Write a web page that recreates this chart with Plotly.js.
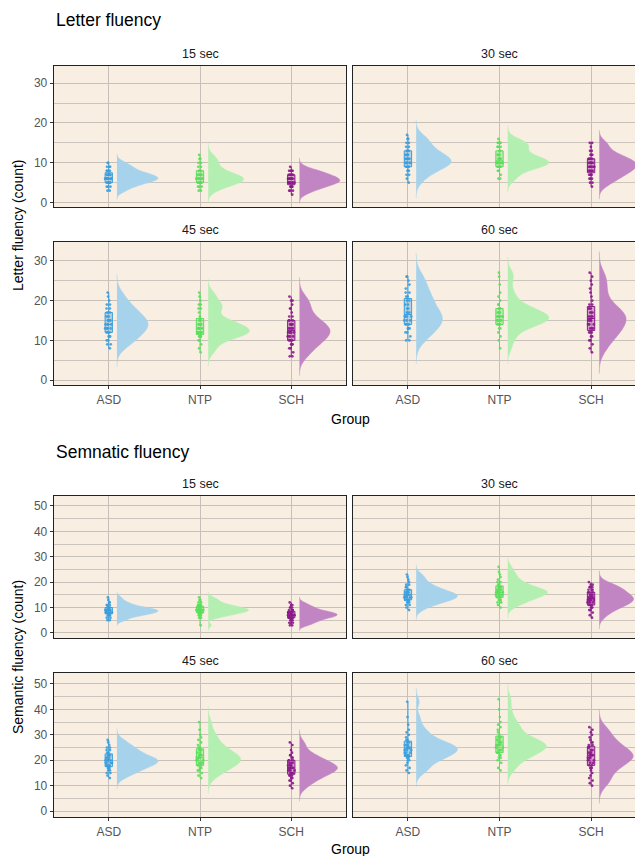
<!DOCTYPE html>
<html><head><meta charset="utf-8">
<script src="https://cdn.plot.ly/plotly-3.0.1.min.js"></script>
<style>html,body{margin:0;padding:0;overflow:hidden;background:#fff;} #chart{width:660px;height:856px;}</style>
</head><body><div id="chart"></div>
<script>
// ---------------- data ----------------
const groups = ['ASD', 'NTP', 'SCH'];
const timeLabels = ['15 sec', '30 sec', '45 sec', '60 sec'];

// Letter fluency (count)
const letter15_ASD = [3,3,4,4,4,5,5,5,5,5,5,6,6,6,6,6,6,6,6,6,7,7,7,7,7,7,7,8,8,8,8,9,9,9,10,10];
const letter15_NTP = [3,3,4,4,4,5,5,5,5,5,5,5,6,6,6,6,6,6,6,6,7,7,7,7,7,7,8,8,8,9,9,10,10,11,11,12];
const letter15_SCH = [2,3,3,3,4,4,4,4,4,5,5,5,5,5,5,5,5,6,6,6,6,6,6,6,6,7,7,7,7,7,7,8,8,8,8,9];
const letter30_ASD = [5,6,7,7,8,8,8,9,9,9,9,10,10,10,10,10,10,11,11,11,11,11,12,12,12,12,13,13,13,14,14,15,15,16,16,17];
const letter30_NTP = [6,6,7,8,8,9,9,9,9,9,10,10,10,10,10,10,10,10,11,11,11,11,11,12,12,12,13,13,14,14,14,15,15,15,15,16];
const letter30_SCH = [4,5,5,6,6,6,7,7,7,7,8,8,8,8,8,9,9,9,9,9,9,10,10,10,10,10,10,11,11,11,11,11,12,12,12,13,13,14,15,15];
const letter45_ASD = [8,9,9,10,10,11,11,11,12,12,12,13,13,13,13,14,14,14,14,15,15,15,15,16,16,16,17,17,17,18,18,19,19,20,21,22];
const letter45_NTP = [7,8,9,10,10,11,11,11,11,12,12,12,12,12,12,13,13,13,13,13,14,14,14,14,15,15,15,16,17,18,18,19,19,20,21,22];
const letter45_SCH = [6,6,7,8,8,9,9,9,10,10,10,11,11,11,11,12,12,12,12,12,13,13,13,13,14,14,14,14,15,15,15,16,16,17,18,18,19,20,20,21];
const letter60_ASD = [10,10,11,12,12,13,13,13,14,14,14,15,15,15,16,16,16,16,17,17,17,18,18,19,19,20,20,21,21,22,22,23,24,25,26,26];
const letter60_NTP = [8,10,11,12,13,13,14,14,14,14,15,15,15,15,15,16,16,16,16,16,16,17,17,17,17,18,18,18,19,19,20,21,22,24,26,27];
const letter60_SCH = [7,8,9,10,10,11,11,12,12,12,13,13,13,14,14,14,15,15,15,15,16,16,16,16,17,17,17,18,18,18,19,19,20,21,22,23,24,25,26,27];

// Semantic fluency (count)
const semantic15_ASD = [5,5,6,6,7,7,7,7,7,8,8,8,8,8,8,8,9,9,9,9,9,9,9,9,10,10,10,10,10,11,11,11,12,12,13,14];
const semantic15_NTP = [3,6,6,7,7,7,7,8,8,8,8,8,8,9,9,9,9,9,9,9,9,10,10,10,10,10,10,11,11,11,11,12,12,13,13,14];
const semantic15_SCH = [3,3,4,4,4,5,5,5,5,6,6,6,6,6,6,7,7,7,7,7,7,7,7,8,8,8,8,8,8,8,9,9,9,9,10,10,10,11,11,12];
const semantic30_ASD = [9,10,11,11,12,12,12,13,13,13,13,14,14,14,14,14,15,15,15,15,15,16,16,16,16,17,17,17,18,18,19,19,20,21,22,23];
const semantic30_NTP = [10,11,12,12,13,13,13,14,14,14,15,15,15,15,16,16,16,16,16,16,17,17,17,17,18,18,18,19,19,20,20,21,22,23,24,26];
const semantic30_SCH = [6,7,8,9,9,10,10,10,11,11,11,12,12,12,12,13,13,13,13,13,14,14,14,14,15,15,15,15,16,16,16,17,17,17,18,18,18,19,19,20];
const semantic45_ASD = [13,14,15,15,16,16,17,17,17,18,18,18,19,19,19,19,20,20,20,20,20,21,21,21,22,22,22,23,23,24,24,25,25,26,27,28];
const semantic45_NTP = [13,14,15,16,16,17,17,18,18,18,19,19,19,20,20,20,21,21,21,21,22,22,22,23,23,24,24,25,25,26,27,28,29,30,32,35];
const semantic45_SCH = [9,10,11,12,12,13,13,14,14,14,15,15,15,16,16,16,16,17,17,17,17,17,18,18,18,18,19,19,19,20,20,20,21,21,22,22,23,24,26,27];
const semantic60_ASD = [15,16,17,18,19,20,20,21,21,22,22,22,23,23,23,24,24,24,25,25,25,25,26,26,26,27,27,28,28,29,30,31,32,34,37,43];
const semantic60_NTP = [16,17,19,20,21,21,22,22,23,23,24,24,24,25,25,25,26,26,26,26,27,27,27,28,28,29,29,30,31,32,33,34,35,37,40,44];
const semantic60_SCH = [10,11,12,13,14,15,16,17,17,18,18,19,19,20,20,20,21,21,21,22,22,22,22,23,23,23,24,24,25,25,26,26,27,27,28,29,30,31,32,33];

const letterTicks = [0, 10, 20, 30];
const semanticTicks = [0, 10, 20, 30, 40, 50];

// ---------------- assembly ----------------
const letterSets = [
  [letter15_ASD, letter15_NTP, letter15_SCH],
  [letter30_ASD, letter30_NTP, letter30_SCH],
  [letter45_ASD, letter45_NTP, letter45_SCH],
  [letter60_ASD, letter60_NTP, letter60_SCH]
];
const semanticSets = [
  [semantic15_ASD, semantic15_NTP, semantic15_SCH],
  [semantic30_ASD, semantic30_NTP, semantic30_SCH],
  [semantic45_ASD, semantic45_NTP, semantic45_SCH],
  [semantic60_ASD, semantic60_NTP, semantic60_SCH]
];

const W = 660, H = 856;
const FONT = 'Liberation Sans, Arial, sans-serif';
const pointColors = ['#3A9FDF', '#5ADF5A', '#8C1A8C'];
const boxFills = ['rgba(58,159,223,0.35)', 'rgba(90,223,90,0.35)', 'rgba(140,26,140,0.35)'];
const violinColors = ['#A7D2EC', '#B3EFB1', '#C285C3'];
const gridCol = '#C6C0B9';

function quantile(sorted, p) {
  const h = (sorted.length - 1) * p, lo = Math.floor(h), hi = Math.ceil(h);
  return sorted[lo] + (sorted[hi] - sorted[lo]) * (h - lo);
}
function nrd0(v) {
  const n = v.length, m = v.reduce((a, b) => a + b, 0) / n;
  const sd = Math.sqrt(v.reduce((a, b) => a + (b - m) * (b - m), 0) / (n - 1));
  const s = v.slice().sort((a, b) => a - b);
  const iqr = quantile(s, 0.75) - quantile(s, 0.25);
  let lo = Math.min(sd, iqr / 1.34);
  if (!(lo > 0)) lo = sd || 1;
  return 0.9 * lo * Math.pow(n, -0.2);
}
function peakDensity(v, bw) {
  const mn = Math.min(...v) - 3 * bw, mx = Math.max(...v) + 3 * bw;
  let best = 0;
  for (let i = 0; i <= 300; i++) {
    const x = mn + (mx - mn) * i / 300;
    let d = 0;
    for (const xi of v) { const z = (x - xi) / bw; d += Math.exp(-0.5 * z * z); }
    d /= v.length * bw * Math.sqrt(2 * Math.PI);
    if (d > best) best = d;
  }
  return best;
}

// panel pixel boxes [left, right, top, bottom]
const panels = [
  {sets: letterSets[0], lab: timeLabels[0], px: [54, 346, 66, 207], range: [-1.1, 34.3], ticks: letterTicks, left: true, bottom: false},
  {sets: letterSets[1], lab: timeLabels[1], px: [353, 646, 66, 207], range: [-1.1, 34.3], ticks: letterTicks, left: false, bottom: false},
  {sets: letterSets[2], lab: timeLabels[2], px: [54, 346, 242, 385], range: [-1.2, 34.7], ticks: letterTicks, left: true, bottom: true},
  {sets: letterSets[3], lab: timeLabels[3], px: [353, 646, 242, 385], range: [-1.2, 34.7], ticks: letterTicks, left: false, bottom: true},
  {sets: semanticSets[0], lab: timeLabels[0], px: [54, 346, 496, 638], range: [-2.0, 53.9], ticks: semanticTicks, left: true, bottom: false},
  {sets: semanticSets[1], lab: timeLabels[1], px: [353, 646, 496, 638], range: [-2.0, 53.9], ticks: semanticTicks, left: false, bottom: false},
  {sets: semanticSets[2], lab: timeLabels[2], px: [54, 346, 673, 817], range: [-2.3, 54.3], ticks: semanticTicks, left: true, bottom: true},
  {sets: semanticSets[3], lab: timeLabels[3], px: [353, 646, 673, 817], range: [-2.3, 54.3], ticks: semanticTicks, left: false, bottom: true}
];

const traces = [];
const layout = {
  width: W, height: H,
  margin: {l: 0, r: 0, t: 0, b: 0},
  paper_bgcolor: '#ffffff',
  plot_bgcolor: '#F8EEE2',
  showlegend: false,
  font: {family: FONT, size: 12, color: '#4D4D4D'},
  boxmode: 'overlay', violinmode: 'overlay',
  annotations: []
};

panels.forEach((p, k) => {
  const sfx = k === 0 ? '' : String(k + 1);
  const xa = 'x' + sfx, ya = 'y' + sfx;
  const [l, r, t, b] = p.px;
  layout['xaxis' + sfx] = {
    domain: [l / W, r / W], range: [0.4, 3.6], anchor: ya,
    tickmode: 'array', tickvals: [1, 2, 3], ticktext: groups,
    showticklabels: p.bottom, ticks: p.bottom ? 'outside' : '', ticklen: 3, tickcolor: '#333',
    tickfont: {family: FONT, size: 12, color: '#555555'},
    showgrid: true, gridcolor: gridCol, gridwidth: 1, zeroline: false,
    showline: true, mirror: true, linecolor: '#222', linewidth: 1.3, fixedrange: true
  };
  layout['yaxis' + sfx] = {
    domain: [(H - b) / H, (H - t) / H], range: p.range, anchor: xa,
    tickmode: 'array', tickvals: p.ticks,
    minor: {dtick: 5, tick0: 0, showgrid: true, gridcolor: gridCol, gridwidth: 0.9},
    showticklabels: p.left, ticks: p.left ? 'outside' : '', ticklen: 3, tickcolor: '#333',
    tickfont: {family: FONT, size: 12, color: '#555555'},
    showgrid: true, gridcolor: gridCol, gridwidth: 1, zeroline: false,
    showline: true, mirror: true, linecolor: '#222', linewidth: 1.3, fixedrange: true
  };
  // strip label
  layout.annotations.push({
    xref: 'paper', yref: 'paper', x: (l + r) / 2 / W, y: (H - (t - 12)) / H,
    text: p.lab, showarrow: false, xanchor: 'center', yanchor: 'middle',
    font: {family: FONT, size: 12.5, color: '#1A1A1A'}
  });

  const bws = p.sets.map(nrd0);
  const peaks = p.sets.map((v, i) => peakDensity(v, bws[i]));
  const maxPeak = Math.max(...peaks);

  p.sets.forEach((v, i) => {
    const bw = bws[i];
    traces.push({
      type: 'violin', y: v, x0: i + 1 + 0.09, xaxis: xa, yaxis: ya,
      side: 'positive', width: 0.9 * peaks[i] / maxPeak,
      bandwidth: bw, spanmode: 'manual', span: [Math.min(...v) - 3 * bw, Math.max(...v) + 3 * bw],
      scalemode: 'width', scalegroup: 'v' + k + '_' + i,
      points: false, box: {visible: false}, meanline: {visible: false},
      fillcolor: violinColors[i], line: {color: violinColors[i], width: 0.5},
      hoverinfo: 'skip', name: groups[i]
    });
    traces.push({
      type: 'box', y: v, x0: i + 1, xaxis: xa, yaxis: ya, width: 0.08,
      boxpoints: false, fillcolor: boxFills[i], line: {color: pointColors[i], width: 1},
      whiskerwidth: 0, hoverinfo: 'skip', name: groups[i]
    });
    traces.push({
      type: 'box', y: v, x0: i + 1, xaxis: xa, yaxis: ya, width: 0.09,
      boxpoints: 'all', jitter: 0.9, pointpos: 0,
      marker: {color: pointColors[i], size: 2.7, opacity: 0.9},
      fillcolor: 'rgba(0,0,0,0)', line: {color: 'rgba(0,0,0,0)', width: 0},
      hoverinfo: 'skip', name: groups[i]
    });
  });
});

// titles
const addText = (txt, px, py, size, opts) => layout.annotations.push(Object.assign({
  xref: 'paper', yref: 'paper', x: px / W, y: (H - py) / H, text: txt, showarrow: false,
  xanchor: 'center', yanchor: 'middle', font: {family: FONT, size: size, color: '#000'}
}, opts || {}));
addText('Letter fluency', 54, 20, 17.5, {xanchor: 'left'});
addText('Semnatic fluency', 54, 452, 17.5, {xanchor: 'left'});
addText('Group', 350, 419, 14);
addText('Group', 350, 849, 14);
addText('Letter fluency (count)', 18, 225, 14, {textangle: -90});
addText('Semantic fluency (count)', 18, 657, 14, {textangle: -90});

Plotly.newPlot('chart', traces, layout, {staticPlot: true, displayModeBar: false});
</script>
</body></html>
